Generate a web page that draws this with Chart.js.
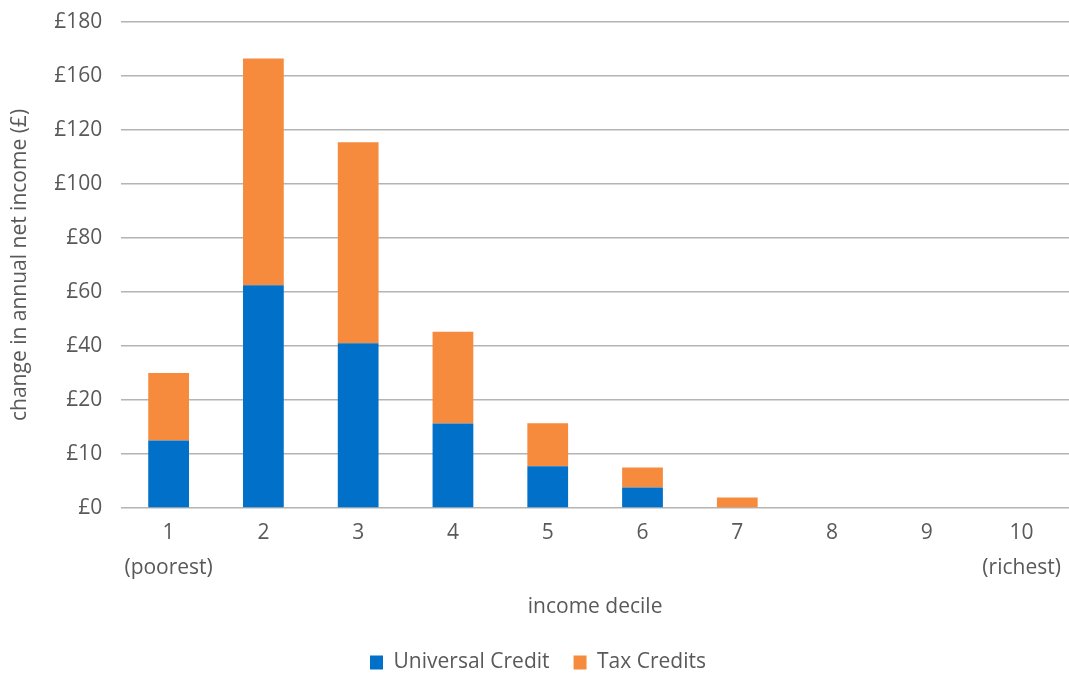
<!DOCTYPE html>
<html lang="en">
<head>
<meta charset="utf-8">
<title>Income decile chart</title>
<style>
  body { margin: 0; background: #fff; }
  #wrap { width: 1069px; height: 674px; overflow: hidden; }
  #inner { position: relative; width: 1069px; height: 683px; }
</style>
</head>
<body>
<div id="wrap"><div id="inner"><canvas id="chart"></canvas></div></div>
<script src="https://cdn.jsdelivr.net/npm/chart.js"></script>
<script>
const deciles = [['1', '(poorest)'], '2', '3', '4', '5', '6', '7', '8', '9', ['10', '(richest)']];
const universalCredit = [25, 82.5, 61, 31.3, 15.4, 7.6, 0, 0, 0, 0];
const taxCredits = [25, 84, 74.5, 34, 16, 7.4, 3.9, 0, 0, 0];
const yTickLabels = ['£0', '£10', '£20', '£40', '£60', '£80', '£100', '£120', '£160', '£180'];

const textGrey = '#595959';
Chart.defaults.font.family = '"Open Sans", Lato, sans-serif';
Chart.defaults.font.size = 21;
Chart.defaults.color = textGrey;

new Chart(document.getElementById('chart'), {
  type: 'bar',
  data: {
    labels: deciles,
    datasets: [
      { label: 'Universal Credit', data: universalCredit, backgroundColor: '#0070c8', barPercentage: 0.86, categoryPercentage: 0.5 },
      { label: 'Tax Credits', data: taxCredits, backgroundColor: '#f68b3d', barPercentage: 0.86, categoryPercentage: 0.5 }
    ]
  },
  options: {
    responsive: true,
    maintainAspectRatio: false,
    animation: false,
    layout: { padding: { top: 22, right: 0, left: 7, bottom: 0 } },
    plugins: {
      legend: {
        position: 'bottom',
        labels: { boxWidth: 13, boxHeight: 14, padding: 24, color: textGrey }
      },
      tooltip: { enabled: false }
    },
    scales: {
      x: {
        stacked: true,
        grid: { display: false },
        border: { display: false },
        ticks: { padding: 0, color: textGrey, font: { lineHeight: 1.64 } },
        title: { display: true, text: 'income decile', color: textGrey, padding: { top: 10, bottom: 8 } }
      },
      y: {
        stacked: true,
        min: 0,
        max: 180,
        grid: { color: '#b4b4b4', lineWidth: 1.5, drawTicks: true, tickLength: 19, tickColor: 'rgba(0,0,0,0)' },
        border: { display: false },
        ticks: {
          stepSize: 20,
          padding: 0,
          color: textGrey,
          callback: function (v) { return yTickLabels[Math.round(v / 20)]; }
        },
        title: { display: true, text: 'change in annual net income (£)', color: textGrey, padding: { top: 0, bottom: 22 } }
      }
    }
  }
});
</script>
</body>
</html>
